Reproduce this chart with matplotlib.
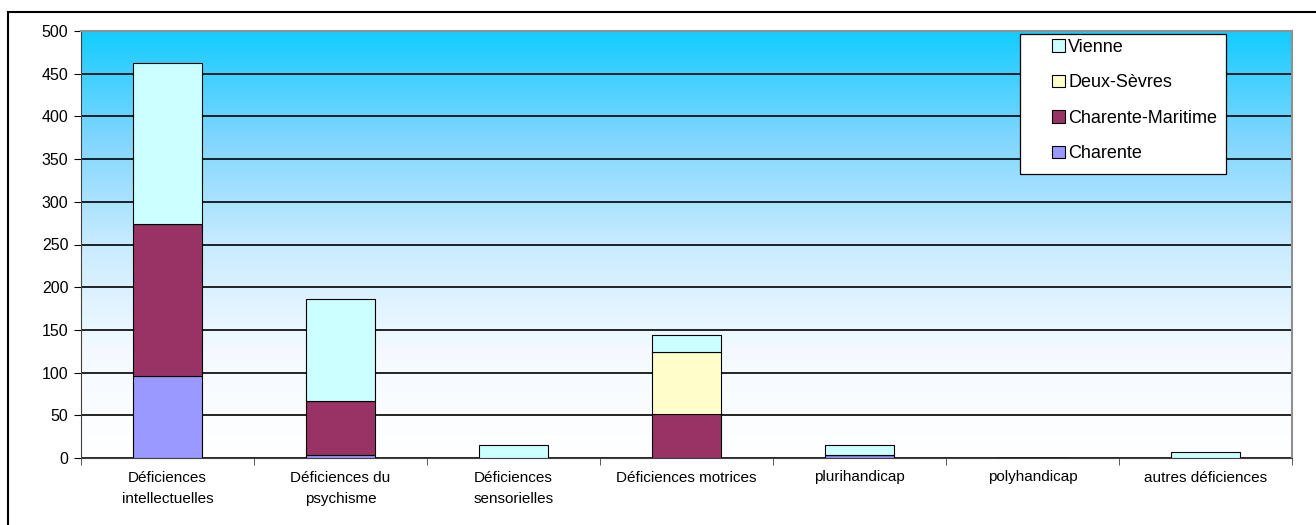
import numpy as np
import matplotlib
matplotlib.use("Agg")
from matplotlib import pyplot as plt
from matplotlib.colors import LinearSegmentedColormap
from matplotlib.patches import Rectangle

plt.rcParams['font.family'] = ['Liberation Sans', 'DejaVu Sans']

categories = ["Déficiences\nintellectuelles", "Déficiences du\npsychisme", "Déficiences\nsensorielles",
              "Déficiences motrices", "plurihandicap", "polyhandicap", "autres déficiences"]
charente = [96, 4, 0, 0, 4, 0, 0]
charente_maritime = [178, 63, 0, 51, 0, 0, 0]
deux_sevres = [0, 0, 0, 73, 0, 0, 0]
vienne = [188, 119, 15, 20, 11, 0, 7]

series = [("Charente", charente, "#9999ff"),
          ("Charente-Maritime", charente_maritime, "#993366"),
          ("Deux-Sèvres", deux_sevres, "#ffffcc"),
          ("Vienne", vienne, "#ccffff")]

W, H = 1316, 525
fig = plt.figure(figsize=(W / 100, H / 100), dpi=100)
ax = fig.add_axes([81 / W, 1 - 458 / H, (1292 - 81) / W, (458 - 31) / H])

# outer chart frame
fig.patches.append(Rectangle((8 / W, -0.1), 1.2, 1 - 12 / H + 0.1, transform=fig.transFigure,
                             fill=False, edgecolor="black", linewidth=1.5))

# background gradient
cmap = LinearSegmentedColormap.from_list("bg", ["#ffffff", "#f4faff", "#c8ebff", "#7fd6ff", "#14ccff"])
grad = np.linspace(0, 1, 256).reshape(-1, 1)
ax.imshow(grad, aspect="auto", cmap=cmap, origin="lower", extent=[-0.5, 6.5, 0, 500], zorder=0)

x = np.arange(len(categories))
bottom = np.zeros(len(categories))
handles = {}
for name, vals, col in series:
    b = ax.bar(x, vals, 0.4, bottom=bottom, color=col, edgecolor="black", linewidth=0.8, zorder=3, label=name)
    handles[name] = b
    bottom += np.array(vals)

ax.set_xlim(-0.5, 6.5)
ax.set_ylim(0, 500)
ax.set_yticks(range(0, 501, 50))
ax.yaxis.grid(True, color="black", linewidth=1.2, zorder=1)
ax.set_axisbelow(True)

ax.set_xticks(x)
ax.set_xticklabels(categories, fontsize=11, linespacing=1.7)
ax.set_xticks(np.arange(-0.5, 7, 1), minor=True)
ax.tick_params(axis="x", which="major", length=0, pad=9)
ax.tick_params(axis="x", which="minor", length=5, color="#404040")
ax.tick_params(axis="y", length=5, labelsize=11.5, pad=4)

for s in ["top", "right"]:
    ax.spines[s].set_color("#909090")
    ax.spines[s].set_linewidth(1.5)
for s in ["left", "bottom"]:
    ax.spines[s].set_color("#404040")

# legend box
fig.patches.append(Rectangle((1020 / W, 1 - 174 / H), 206 / W, 140 / H, transform=fig.transFigure,
                             facecolor="white", edgecolor="black", linewidth=0.9, zorder=5))
order = ["Vienne", "Deux-Sèvres", "Charente-Maritime", "Charente"]
leg = fig.legend([handles[n] for n in order], order, loc="upper left",
                 bbox_to_anchor=(1052 / W, 1 - 39 / H), fontsize=13,
                 frameon=False, handlelength=0.7, handleheight=0.7, handletextpad=0.2,
                 labelspacing=1.02, borderpad=0, borderaxespad=0)
leg.set_zorder(6)

plt.savefig("out.png", dpi=100)
